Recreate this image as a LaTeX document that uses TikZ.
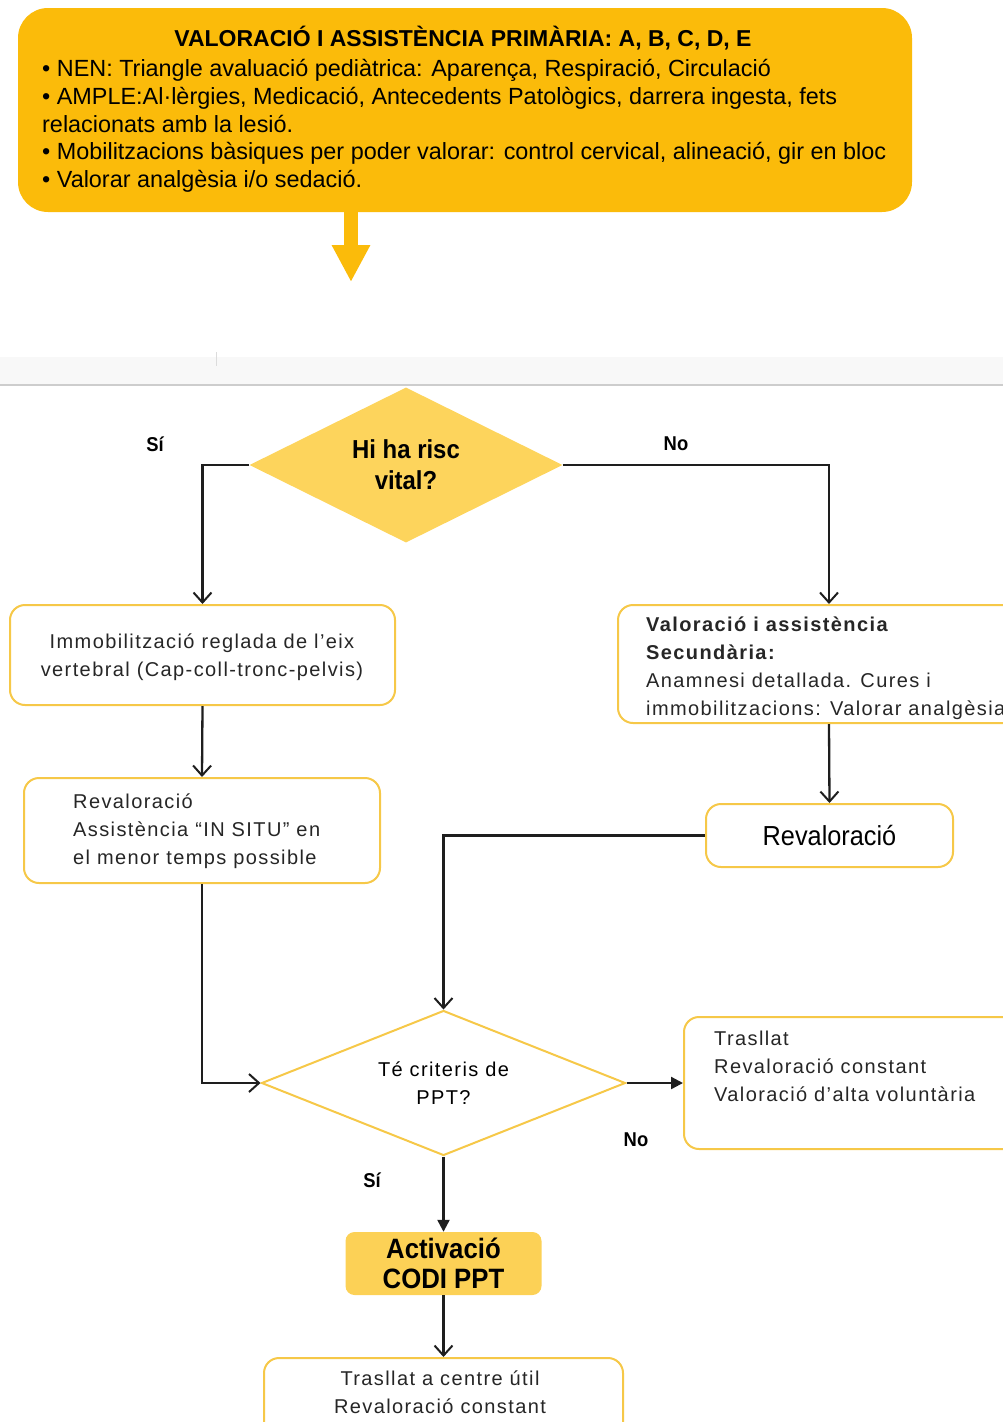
\documentclass[tikz,border=0pt]{standalone}
\usepackage{fontspec}
\setmainfont{Liberation Sans}
\newfontfamily\cond{Liberation Sans}[FakeStretch=1.0]
\newfontfamily\spaced{Liberation Sans}[LetterSpace=7]
\newfontfamily\semicond{Liberation Sans}[FakeStretch=0.92]
\usetikzlibrary{shapes.geometric,arrows.meta}
\definecolor{topyellow}{RGB}{251,187,10}
\definecolor{lightyellow}{RGB}{253,212,92}
\definecolor{activ}{RGB}{252,209,86}
\definecolor{boxborder}{RGB}{246,200,72}
\definecolor{lnc}{RGB}{30,30,30}
\definecolor{bandc}{RGB}{248,248,248}
\definecolor{bandline}{RGB}{205,205,205}
\tikzset{
  flowbox/.style={draw=boxborder, line width=2pt, fill=white, rounded corners=15pt, inner sep=0pt},
  conn/.style={draw=lnc, line width=2.3pt, -{Straight Barb[length=10pt,width=18pt,line width=2pt]}},
  connf/.style={draw=lnc, line width=2.3pt, -{Triangle[length=12pt,width=12pt]}},
  lbl/.style={font=\semicond\bfseries\fontsize{20}{24}\selectfont, inner sep=0pt, text=black},
  txt/.style={font=\spaced\fontsize{20}{28}\selectfont, inner sep=0pt, text=black!85},
}
\begin{document}
\begin{tikzpicture}[x=1pt,y=-1pt]
\useasboundingbox (0,0) rectangle (1003,1422);
\clip (0,0) rectangle (1003,1422);
% top box
\node[fill=topyellow, rounded corners=30pt, minimum width=894pt, minimum height=204pt, inner sep=0pt] (top) at (465,110) {};
\node[font=\cond\bfseries\fontsize{23}{27.8}\selectfont, inner sep=0pt, anchor=base] (title) at (463,46) {VALORACIÓ I ASSISTÈNCIA PRIMÀRIA: A, B, C, D, E};
\node[font=\cond\fontsize{23.4}{27.8}\selectfont, inner sep=0pt, anchor=north west, align=left] (bul) at (42,59)
{• NEN: Triangle avaluació pediàtrica: Aparença, Respiració, Circulació\\
• AMPLE:Al·lèrgies, Medicació, Antecedents Patològics, darrera ingesta, fets\\
relacionats amb la lesió.\\
• Mobilitzacions bàsiques per poder valorar: control cervical, alineació, gir en bloc\\
• Valorar analgèsia i/o sedació.};
\coordinate (ah) at (351,282);
\draw[topyellow, line width=14pt, -{Triangle[length=37pt,width=36pt]}] (top.south -| ah) -- (ah);
% band
\fill[bandc] (0,357) rectangle (1003,385);
\draw[bandline, line width=2pt] (0,385) -- (1003,385);
\draw[bandline!70, line width=1pt] (216,352) -- (216,366);
% diamond 1
\node[diamond, fill=lightyellow, minimum width=313pt, minimum height=155pt, inner sep=0pt, aspect=2,
  font=\semicond\bfseries\fontsize{26}{31}\selectfont, align=center] (d1) at (406,465) {Hi ha risc\\vital?};
\node[lbl] (si1) at (155,444) {Sí};
\node[lbl] (no1) at (676,444) {No};
% boxes
\node[flowbox, minimum width=385pt, minimum height=100pt] (b1) at (202.5,655) {};
\node[txt, align=center] (b1t) at (202,657) {Immobilització reglada de l’eix\\vertebral (Cap-coll-tronc-pelvis)};
\node[flowbox, minimum width=356pt, minimum height=105pt] (b2) at (202,830.5) {};
\node[txt, align=left, anchor=north west] (b2t) at (73,794) {Revaloració\\Assistència “IN SITU” en\\el menor temps possible};
\node[flowbox, minimum width=422pt, minimum height=118pt] (b3) at (829,664) {};
\node[txt, align=left, anchor=north west] (b3t) at (646,617) {\textbf{Valoració i assistència}\\\textbf{Secundària:}\\Anamnesi detallada. Cures i\\immobilitzacions: Valorar analgèsia};
\node[flowbox, minimum width=247pt, minimum height=63pt, font=\semicond\fontsize{27.5}{30}\selectfont] (rev) at (829.5,835.5) {Revaloració};
\node[diamond, draw=boxborder, line width=2pt, fill=white, minimum width=364pt, minimum height=145pt, inner sep=0pt, aspect=2.5,
  font=\spaced\fontsize{20}{28}\selectfont, align=center] (d2) at (443.5,1083) {Té criteris de\\PPT?};
\node[flowbox, minimum width=340pt, minimum height=132pt] (b5) at (854,1083) {};
\node[txt, align=left, anchor=north west] (b5t) at (714,1031) {Trasllat\\Revaloració constant\\Valoració d’alta voluntària};
\node[lbl] (no2) at (636,1140) {No};
\node[lbl] (si2) at (372,1180) {Sí};
\node[fill=activ, rounded corners=9pt, minimum width=196pt, minimum height=63pt, inner sep=0pt,
  font=\semicond\bfseries\fontsize{28}{30}\selectfont, align=center] (act) at (443.5,1263.5) {Activació\\CODI PPT};
\node[flowbox, minimum width=359pt, minimum height=80pt] (b6) at (443.5,1398) {};
\node[txt, align=center] (b6t) at (440,1392) {Trasllat a centre útil\\Revaloració constant};
% connectors
\draw[conn] (d1.west) -| (b1.north);
\draw[conn] (d1.east) -| (b3.north);
\draw[conn] (b1.south) -- (b2.north);
\draw[conn] (b3.south) -- (rev.north);
\draw[conn] (rev.west) -| (d2.north);
\draw[conn] (b2.south) |- (d2.west);
\draw[connf] (d2.east) -- (b5.west);
\draw[connf] (d2.south) -- (act.north);
\draw[conn] (act.south) -- (b6.north);
\end{tikzpicture}
\end{document}
